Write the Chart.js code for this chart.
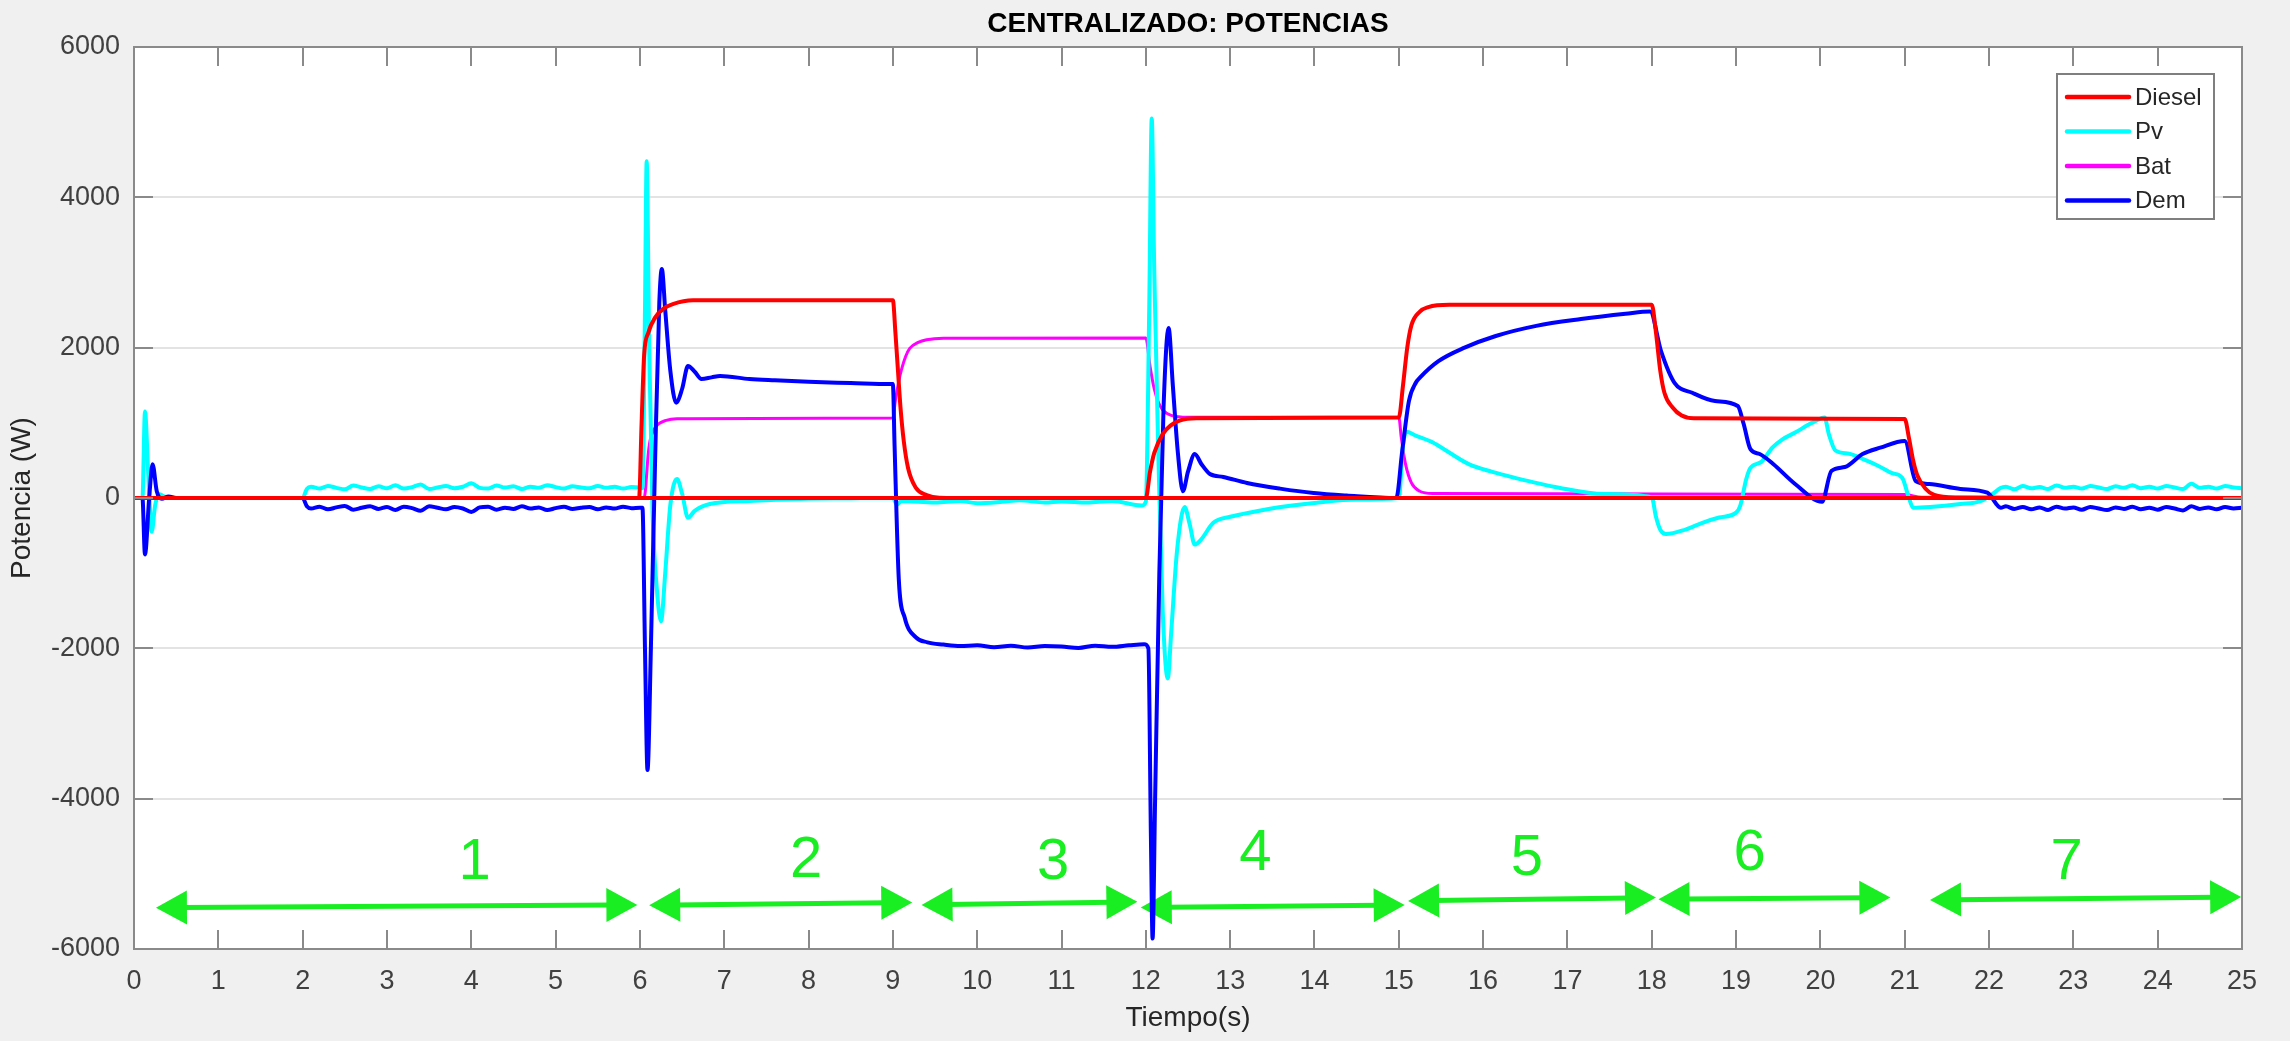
<!DOCTYPE html>
<html><head><meta charset="utf-8">
<script src="https://cdn.jsdelivr.net/npm/chart.js@4.4.1/dist/chart.umd.min.js"></script>
<style>html,body{margin:0;padding:0;background:#f0f0f0;overflow:hidden}#wrap{width:2290px;height:1041px}</style>
</head><body><div id="wrap"><canvas id="c" width="2290" height="1041"></canvas></div>
<script>
const titleText = 'CENTRALIZADO: POTENCIAS';
const xTitle = 'Tiempo(s)';
const yTitle = 'Potencia (W)';
const xTickValues = [0,1,2,3,4,5,6,7,8,9,10,11,12,13,14,15,16,17,18,19,20,21,22,23,24,25];
const yTickValues = [-6000,-4000,-2000,0,2000,4000,6000];
const legendNames = ['Diesel','Pv','Bat','Dem'];

const dieselT = [0,5.99,6.02,6.05,6.10,6.18,6.28,6.39,6.63,9.00,9.03,9.06,9.09,9.13,9.18,9.27,9.40,9.55,10.0,12.0,12.05,12.10,12.20,12.30,12.40,12.60,15.00,15.05,15.10,15.15,15.25,15.35,15.60,18.00,18.05,18.10,18.15,18.25,18.35,18.50,21.00,21.05,21.10,21.15,21.25,21.35,21.60,25];
const dieselP = [0,0,1000,1900,2200,2400,2520,2580,2630,2630,2200,1700,1210,750,400,140,40,5,0,0,350,600,850,970,1030,1060,1070,1500,2000,2300,2480,2540,2570,2570,2200,1700,1400,1200,1100,1060,1050,800,500,300,120,40,5,0];

const zeroT = [0,25];
const zeroP = [0,0];

const batT = [0,6.05,6.10,6.12,6.16,6.22,6.30,6.44,9.00,9.03,9.07,9.10,9.15,9.20,9.30,9.40,9.60,12.00,12.05,12.10,12.15,12.20,12.30,12.50,15.00,15.03,15.08,15.15,15.25,15.40,21.00,21.20,25];
const batP = [0,0,600,760,900,985,1030,1055,1065,1300,1550,1700,1880,1990,2070,2105,2125,2130,1750,1450,1270,1170,1100,1075,1075,800,450,200,90,60,45,10,0];

const pvT = [0,0.10,0.13,0.17,0.21,0.25,0.30,0.40,2.00,2.05,
 2.1,2.2,2.3,2.4,2.5,2.6,2.7,2.8,2.9,3.0,3.1,3.2,3.3,3.4,3.5,3.6,3.7,3.8,3.9,4.0,4.1,4.2,4.3,4.4,4.5,4.6,4.7,4.8,4.9,5.0,5.1,5.2,5.3,5.4,5.5,5.6,5.7,5.8,5.9,6.0,
 6.03,6.06,6.08,6.11,6.15,6.20,6.25,6.30,6.36,6.44,6.50,6.57,6.65,6.83,7.3,7.8,8.5,9.0,9.05,9.1,9.5,9.8,10.0,10.3,10.5,10.8,11.0,11.3,11.6,11.95,12.0,
 12.04,12.07,12.10,12.15,12.20,12.26,12.30,12.37,12.46,12.52,12.58,12.65,12.8,13.0,13.3,13.6,14.0,14.5,15.0,
 15.05,15.09,15.2,15.41,15.57,15.83,16.1,16.37,16.9,17.43,18.0,18.05,18.1,18.17,18.4,18.6,18.8,19.0,19.05,19.12,19.17,19.3,19.43,19.55,19.7,19.85,19.95,20.05,20.1,20.18,20.34,20.5,20.7,20.85,20.97,21.05,21.1,21.3,21.66,21.9,22.05,22.13,
 22.2,22.3,22.4,22.5,22.6,22.7,22.8,22.9,23.0,23.1,23.2,23.3,23.4,23.5,23.6,23.7,23.8,23.9,24.0,24.1,24.2,24.3,24.4,24.5,24.6,24.7,24.8,24.9,25.0];
const pvP = [0,0,1150,300,-450,-100,50,0,0,120,
 150,125,160,135,115,165,140,120,155,130,170,125,145,180,120,140,160,130,150,195,135,125,165,140,155,120,150,135,170,145,125,155,140,130,160,135,150,125,145,140,
 130,2500,4480,2000,-200,-1200,-1640,-1000,-100,253,60,-262,-170,-80,-40,-15,-5,0,-90,-40,-60,-40,-70,-50,-30,-60,-45,-60,-40,-100,-50,
 2500,5050,3000,500,-1500,-2400,-1800,-700,-120,-350,-620,-560,-330,-250,-180,-120,-65,-20,0,
 700,880,830,736,625,451,350,270,137,53,10,-250,-420,-480,-420,-330,-260,-195,-100,250,400,480,670,780,870,970,1030,1070,850,630,590,520,420,330,270,0,-130,-120,-80,-40,60,130,
 150,115,160,130,145,120,165,135,150,125,160,140,120,155,135,170,130,150,125,160,140,120,190,135,150,125,160,140,130];

const demT = [0,0.10,0.13,0.18,0.22,0.27,0.33,0.41,0.50,2.00,2.05,
 2.1,2.2,2.3,2.4,2.5,2.6,2.7,2.8,2.9,3.0,3.1,3.2,3.3,3.4,3.5,3.6,3.7,3.8,3.9,4.0,4.1,4.2,4.3,4.4,4.5,4.6,4.7,4.8,4.9,5.0,5.1,5.2,5.3,5.4,5.5,5.6,5.7,5.8,5.9,6.0,
 6.03,6.06,6.09,6.13,6.18,6.23,6.26,6.30,6.36,6.43,6.50,6.57,6.65,6.73,6.85,6.95,7.3,7.6,8.0,8.5,8.97,9.0,9.02,9.07,9.14,9.27,9.41,9.6,9.8,10.0,10.2,10.4,10.6,10.8,11.0,11.2,11.4,11.6,11.8,11.98,
 12.03,12.06,12.08,12.11,12.16,12.21,12.27,12.32,12.38,12.44,12.50,12.58,12.66,12.76,12.92,13.2,13.59,13.99,14.38,14.97,
 15.04,15.12,15.2,15.25,15.47,15.78,16.15,16.63,17.16,17.69,17.98,18.11,18.27,18.48,18.75,19.02,19.09,19.17,19.28,19.44,19.7,20.02,20.13,20.29,20.5,20.71,21.0,21.13,21.29,21.66,21.98,22.14,
 22.2,22.3,22.4,22.5,22.6,22.7,22.8,22.9,23.0,23.1,23.2,23.3,23.4,23.5,23.6,23.7,23.8,23.9,24.0,24.1,24.2,24.3,24.4,24.5,24.6,24.7,24.8,24.9,25.0];
const demP = [0,0,-750,0,450,90,-10,20,0,0,-110,
 -140,-115,-150,-125,-105,-155,-130,-110,-145,-120,-160,-115,-135,-170,-110,-130,-150,-120,-140,-185,-125,-115,-155,-130,-145,-110,-140,-125,-160,-135,-115,-145,-130,-120,-150,-125,-140,-115,-135,-130,
 -130,-2000,-3620,-2000,500,2600,3046,2500,1700,1268,1450,1756,1680,1583,1605,1623,1583,1565,1545,1530,1516,1516,700,-1080,-1590,-1850,-1920,-1950,-1970,-1960,-1985,-1965,-1990,-1970,-1975,-1995,-1965,-1980,-1960,-1945,
 -2000,-4500,-5860,-4000,-1000,1200,2260,1500,600,90,350,585,450,320,280,200,125,66,33,0,
 620,1290,1530,1600,1820,2000,2155,2290,2380,2450,2480,1955,1533,1400,1290,1224,984,650,585,452,186,-49,359,412,585,669,758,226,186,120,71,-129,
 -110,-145,-120,-150,-125,-160,-115,-140,-125,-155,-120,-140,-160,-125,-145,-115,-150,-130,-155,-120,-140,-165,-110,-145,-125,-150,-120,-140,-130];

// green arrows (annotations, in data units)
const arrowFrom  = [0.26, 6.11, 9.34, 11.94, 15.11, 18.08, 21.30];
const arrowTo    = [5.97, 9.23, 11.90, 15.07, 18.05, 20.83, 24.99];
const arrowYFrom = [-5450, -5417, -5413, -5449, -5360, -5338, -5347];
const arrowYTo   = [-5413, -5382, -5373, -5413, -5316, -5316, -5307];
const arrowText  = ['1','2','3','4','5','6','7'];
const arrowTextX = [4.04, 7.97, 10.9, 13.3, 16.52, 19.16, 22.92];
const arrowTextY = [-4850, -4830, -4850, -4740, -4800, -4740, -4850];

const FONT = "'Liberation Sans', Arial, Helvetica, sans-serif";
Chart.defaults.font.family = FONT;

function pts(t, v){ return t.map((x,i)=>({x:x, y:v[i]})); }
function ds(label, t, v, color, w){
  return {label, data: pts(t,v), borderColor: color, backgroundColor: color, borderWidth: w,
    pointRadius: 0, cubicInterpolationMode: 'monotone', fill: false, borderJoinStyle: 'round', borderCapStyle: 'round'};
}

const bgPlugin = {
  id: 'bg',
  beforeDraw(chart){
    const {ctx, chartArea: a} = chart;
    ctx.save();
    ctx.fillStyle = '#f0f0f0';
    ctx.fillRect(0,0,chart.width,chart.height);
    ctx.fillStyle = '#ffffff';
    ctx.fillRect(a.left, a.top, a.right-a.left, a.bottom-a.top);
    ctx.restore();
  }
};

const arrowPlugin = {
  id: 'arrows',
  beforeDatasetsDraw(chart){
    const {ctx, scales:{x, y}} = chart;
    const green = '#19ee22';
    ctx.save();
    ctx.strokeStyle = green; ctx.fillStyle = green;
    const headL = 31, headH = 17;
    for (let i=0;i<arrowFrom.length;i++){
      const x1 = x.getPixelForValue(arrowFrom[i]), y1 = y.getPixelForValue(arrowYFrom[i]);
      const x2 = x.getPixelForValue(arrowTo[i]), y2 = y.getPixelForValue(arrowYTo[i]);
      const ang = Math.atan2(y2-y1, x2-x1);
      const c = Math.cos(ang), s = Math.sin(ang);
      ctx.lineWidth = 5;
      ctx.beginPath();
      ctx.moveTo(x1 + c*headL*0.8, y1 + s*headL*0.8);
      ctx.lineTo(x2 - c*headL*0.8, y2 - s*headL*0.8);
      ctx.stroke();
      const head = (tx, ty, dir) => {
        const bx = tx + dir*c*headL, by = ty + dir*s*headL;
        ctx.beginPath();
        ctx.moveTo(tx, ty);
        ctx.lineTo(bx - s*headH, by + c*headH);
        ctx.lineTo(bx + s*headH, by - c*headH);
        ctx.closePath();
        ctx.fill();
      };
      head(x1, y1, 1);
      head(x2, y2, -1);
      ctx.font = '58px ' + FONT;
      ctx.textAlign = 'center'; ctx.textBaseline = 'middle';
      ctx.fillText(arrowText[i], x.getPixelForValue(arrowTextX[i]), y.getPixelForValue(arrowTextY[i]));
    }
    ctx.restore();
  }
};

const framePlugin = {
  id: 'frame',
  afterDatasetsDraw(chart){
    const {ctx, chartArea: a, scales:{x, y}} = chart;
    ctx.save();
    ctx.strokeStyle = '#8a8a8a';
    ctx.lineWidth = 2;
    const tl = 19;
    ctx.beginPath();
    xTickValues.forEach(v => {
      if (v === x.min || v === x.max) return;
      const px = Math.round(x.getPixelForValue(v));
      ctx.moveTo(px, a.bottom); ctx.lineTo(px, a.bottom - tl);
      ctx.moveTo(px, a.top); ctx.lineTo(px, a.top + tl);
    });
    yTickValues.forEach(v => {
      if (v === y.min || v === y.max) return;
      const py = Math.round(y.getPixelForValue(v));
      ctx.moveTo(a.left, py); ctx.lineTo(a.left + tl, py);
      ctx.moveTo(a.right, py); ctx.lineTo(a.right - tl, py);
    });
    ctx.stroke();
    ctx.strokeRect(a.left, a.top, a.right - a.left, a.bottom - a.top);

    ctx.fillStyle = '#000000';
    ctx.font = 'bold 28px ' + FONT;
    ctx.textAlign = 'center'; ctx.textBaseline = 'middle';
    ctx.fillText(titleText, (a.left + a.right)/2, a.top - 23);

    const bw = 157, bh = 145;
    const bx = a.right - 28 - bw, by = a.top + 27;
    ctx.fillStyle = '#ffffff';
    ctx.fillRect(bx, by, bw, bh);
    ctx.strokeStyle = '#7f7f7f'; ctx.lineWidth = 2;
    ctx.strokeRect(bx, by, bw, bh);
    ctx.font = '24px ' + FONT;
    ctx.textAlign = 'left'; ctx.textBaseline = 'middle';
    legendNames.forEach((name, i) => {
      const d = chart.data.datasets.find(s => s.label === name);
      const ry = by + 23 + i*34.5;
      ctx.strokeStyle = d.borderColor; ctx.lineWidth = 4.5; ctx.lineCap = 'round';
      ctx.beginPath(); ctx.moveTo(bx + 10, ry); ctx.lineTo(bx + 72, ry); ctx.stroke();
      ctx.fillStyle = '#262626';
      ctx.fillText(name, bx + 78, ry + 1);
    });
    ctx.restore();
  }
};

new Chart(document.getElementById('c'), {
  type: 'line',
  data: {
    datasets: [
      ds('Zero', zeroT, zeroP, '#ff0000', 4),
      ds('Diesel', dieselT, dieselP, '#ff0000', 4),
      ds('Dem', demT, demP, '#0000ff', 4),
      ds('Pv', pvT, pvP, '#00ffff', 4),
      ds('Bat', batT, batP, '#ff00ff', 3)
    ]
  },
  options: {
    responsive: false,
    devicePixelRatio: 1,
    animation: false,
    events: [],
    layout: { padding: { left: 0, right: 48, top: 47, bottom: 0 } },
    plugins: { legend: { display: false }, tooltip: { enabled: false }, title: { display: false } },
    scales: {
      x: {
        type: 'linear', min: 0, max: 25,
        afterBuildTicks: s => { s.ticks = xTickValues.map(v => ({value: v})); },
        afterFit: s => { s.height = 92; },
        grid: { display: false, drawTicks: false },
        border: { display: false },
        ticks: { font: { size: 27 }, color: '#404040', padding: 16, autoSkip: false, maxRotation: 0, callback: v => String(v) },
        title: { display: true, text: xTitle, font: { size: 28 }, color: '#262626', padding: { top: 0, bottom: 6 } }
      },
      y: {
        type: 'linear', min: -6000, max: 6000,
        afterBuildTicks: s => { s.ticks = yTickValues.map(v => ({value: v})); },
        afterFit: s => { s.width = 134; },
        grid: { color: '#e3e3e3', lineWidth: 2, drawTicks: false },
        border: { display: false },
        ticks: { font: { size: 27 }, color: '#404040', padding: 14, callback: v => String(v) },
        title: { display: true, text: yTitle, font: { size: 28 }, color: '#262626', padding: { top: 5, bottom: 0 } }
      }
    }
  },
  plugins: [bgPlugin, arrowPlugin, framePlugin]
});
</script></body></html>
